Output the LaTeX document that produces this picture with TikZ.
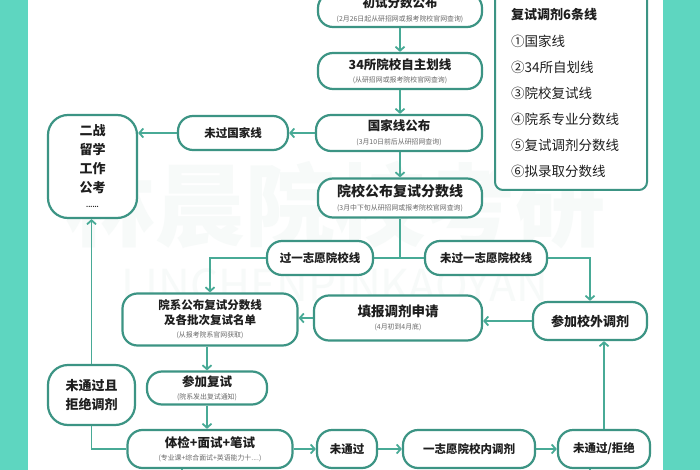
\documentclass[tikz,border=0pt]{standalone}
\usepackage{fontspec}
\setmainfont{Noto Sans CJK SC}
\usetikzlibrary{arrows.meta}
\definecolor{strip}{RGB}{94,214,192}
\definecolor{bd}{RGB}{60,148,132}
\definecolor{ar}{RGB}{72,170,150}
\definecolor{tx}{RGB}{30,30,30}
\definecolor{st}{RGB}{105,105,105}
\definecolor{wm}{RGB}{247,250,249}
\newcommand\TT[1]{{\bfseries\fontsize{12.5}{14}\selectfont #1}}
\newcommand\TM[1]{{\bfseries\fontsize{11.5}{14}\selectfont #1}}
\newcommand\ST[1]{{\fontsize{6.9}{8}\selectfont\color{st}#1}}
\begin{document}
\begin{tikzpicture}[x=1pt,y=-1pt,
  box/.style={draw=bd, line width=2.2pt, fill=white, rounded corners=15pt, inner sep=0pt,
    align=center, text=tx, font=\fontsize{7}{13.5}\selectfont},
  one/.style={box, font=\bfseries\fontsize{11.5}{13}\selectfont},
  arr/.style={draw=ar, line width=1.8pt, -{Straight Barb[length=4pt,width=9pt]}},
  ln/.style={draw=ar, line width=1.8pt},
  lgt/.style={anchor=west, text=tx, font=\fontsize{13.5}{14}\selectfont, inner sep=0pt}]
\useasboundingbox (0,0) rectangle (700,470);
\clip (0,0) rectangle (700,470);
\fill[white] (0,0) rectangle (700,470);
\fill[strip] (0,0) rectangle (28,470);
\fill[strip] (663,0) rectangle (700,470);
% watermark
\node[text=wm, font=\bfseries\fontsize{90}{90}\selectfont, inner sep=0pt] (wmk) at (335,205) {林晨院校考研};
\node[text=wm, font=\fontsize{44}{44}\selectfont, inner sep=0pt] (wml) at (335,285) {LINCHENPINKAOYAN};
% legend
\node[draw=bd, line width=2pt, fill=white, rounded corners=8pt, minimum width=152pt, minimum height=200pt, inner sep=0pt] (lg) at (571,90) {};
\node[lgt, font=\bfseries\fontsize{13}{14}\selectfont] (lgh) at (511,15) {复试调剂6条线};
\foreach \t [count=\i] in {①国家线,②34所自划线,③院校复试线,④院系专业分数线,⑤复试调剂分数线,⑥拟录取分数线}
  \node[lgt] (lg\i) at (511,{15+26*\i}) {\t};
% main column
\node[box, minimum width=164pt, minimum height=34pt] (cs) at (400,10) {\TT{初试分数公布}\\\ST{(2月26日起从研招网或报考院校官网查询)}};
\node[box, minimum width=164pt, minimum height=36pt] (zx) at (400,71) {\TT{34所院校自主划线}\\\ST{(从研招网或报考院校官网查询)}};
\node[box, minimum width=166pt, minimum height=36pt] (gj) at (399,133) {\TT{国家线公布}\\\ST{(3月10日前后从研招网查询)}};
\node[box, minimum width=164pt, minimum height=39pt] (yg) at (400,198) {{\bfseries\fontsize{14}{15}\selectfont 院校公布复试分数线}\\\ST{(3月中下旬从研招网或报考院校官网查询)}};
\node[one, minimum width=110pt, minimum height=34pt] (wg) at (233,133) {未过国家线};
\node[box, rounded corners=20pt, minimum width=89pt, minimum height=103pt, font=\bfseries\fontsize{13}{19}\selectfont] (ez) at (92.5,166.5) {二战\\留学\\工作\\公考\\[-4pt]{\fontsize{6}{6}\selectfont ......}};
\node[one, minimum width=106pt, minimum height=34pt] (g1) at (320,258) {过一志愿院校线};
\node[one, minimum width=122pt, minimum height=34pt] (g2) at (486,258) {未过一志愿院校线};
\node[box, minimum width=175pt, minimum height=52pt, font=\fontsize{7}{15}\selectfont] (yx) at (210,319.5) {\TM{院系公布复试分数线}\\\TM{及各批次复试名单}\\[-2pt]\ST{(从报考院系官网获取)}};
\node[box, minimum width=168pt, minimum height=45pt] (tb) at (398,318) {{\bfseries\fontsize{13.5}{15}\selectfont 填报调剂申请}\\\ST{(4月初到4月底)}};
\node[one, minimum width=114pt, minimum height=38pt, font=\bfseries\fontsize{13}{14}\selectfont] (xw) at (590,321) {参加校外调剂};
\node[box, minimum width=120pt, minimum height=33pt] (fs) at (207,388) {\TT{参加复试}\\\ST{(院系发出复试通知)}};
\node[box, minimum width=165pt, minimum height=38pt] (tj) at (210,449) {\TT{体检+面试+笔试}\\\ST{(专业课+综合面试+英语能力十....)}};
\node[box, rounded corners=20pt, minimum width=87pt, minimum height=60pt, font=\bfseries\fontsize{13}{19}\selectfont] (wq) at (91.5,395) {未通过且\\拒绝调剂};
\node[one, minimum width=60pt, minimum height=38pt] (wt) at (347,449) {未通过};
\node[one, minimum width=132pt, minimum height=38pt] (yn) at (469,449) {一志愿院校内调剂};
\node[one, minimum width=92pt, minimum height=38pt] (wj) at (604,449) {未通过/拒绝};
\coordinate (tjout) at (182,475);
\coordinate (wjout) at (590,475);
% connectors
\draw[arr] (cs.south) -- (zx.north);
\draw[arr] (zx.south) -- (gj.north -| zx.south);
\draw[arr] (gj.south -| yg.north) -- (yg.north);
\draw[arr] (gj.west) -- (wg.east);
\draw[arr] (wg.west) -- (wg.west -| ez.east);
\draw[ln] (yg.south) -- (yg.south |- g1.east);
\draw[ln] (g1.east) -- (g2.west);
\draw[arr] (g1.west) -| (yx.north);
\draw[arr] (g2.east) -| (xw.north);
\draw[arr] (xw.west) -- (xw.west -| tb.east);
\draw[arr] (tb.west) -- (tb.west -| yx.east);
\draw[arr] (yx.south -| fs.north) -- (fs.north);
\draw[arr] (fs.south) -- (fs.south |- tj.north);
\draw[arr] (tj.east) -- (wt.west);
\draw[arr] (wt.east) -- (yn.west);
\draw[arr] (yn.east) -- (wj.west);
\draw[arr] (wj.north) -- (wj.north |- xw.south);
\draw[ln] (tj.west) -| (wq.south);
\draw[arr] (wq.north) -- (wq.north |- ez.south);
\draw[ln] (tj.south -| tjout) -- (tjout);
\draw[ln] (wj.south -| wjout) -- (wjout);
\end{tikzpicture}
\end{document}
